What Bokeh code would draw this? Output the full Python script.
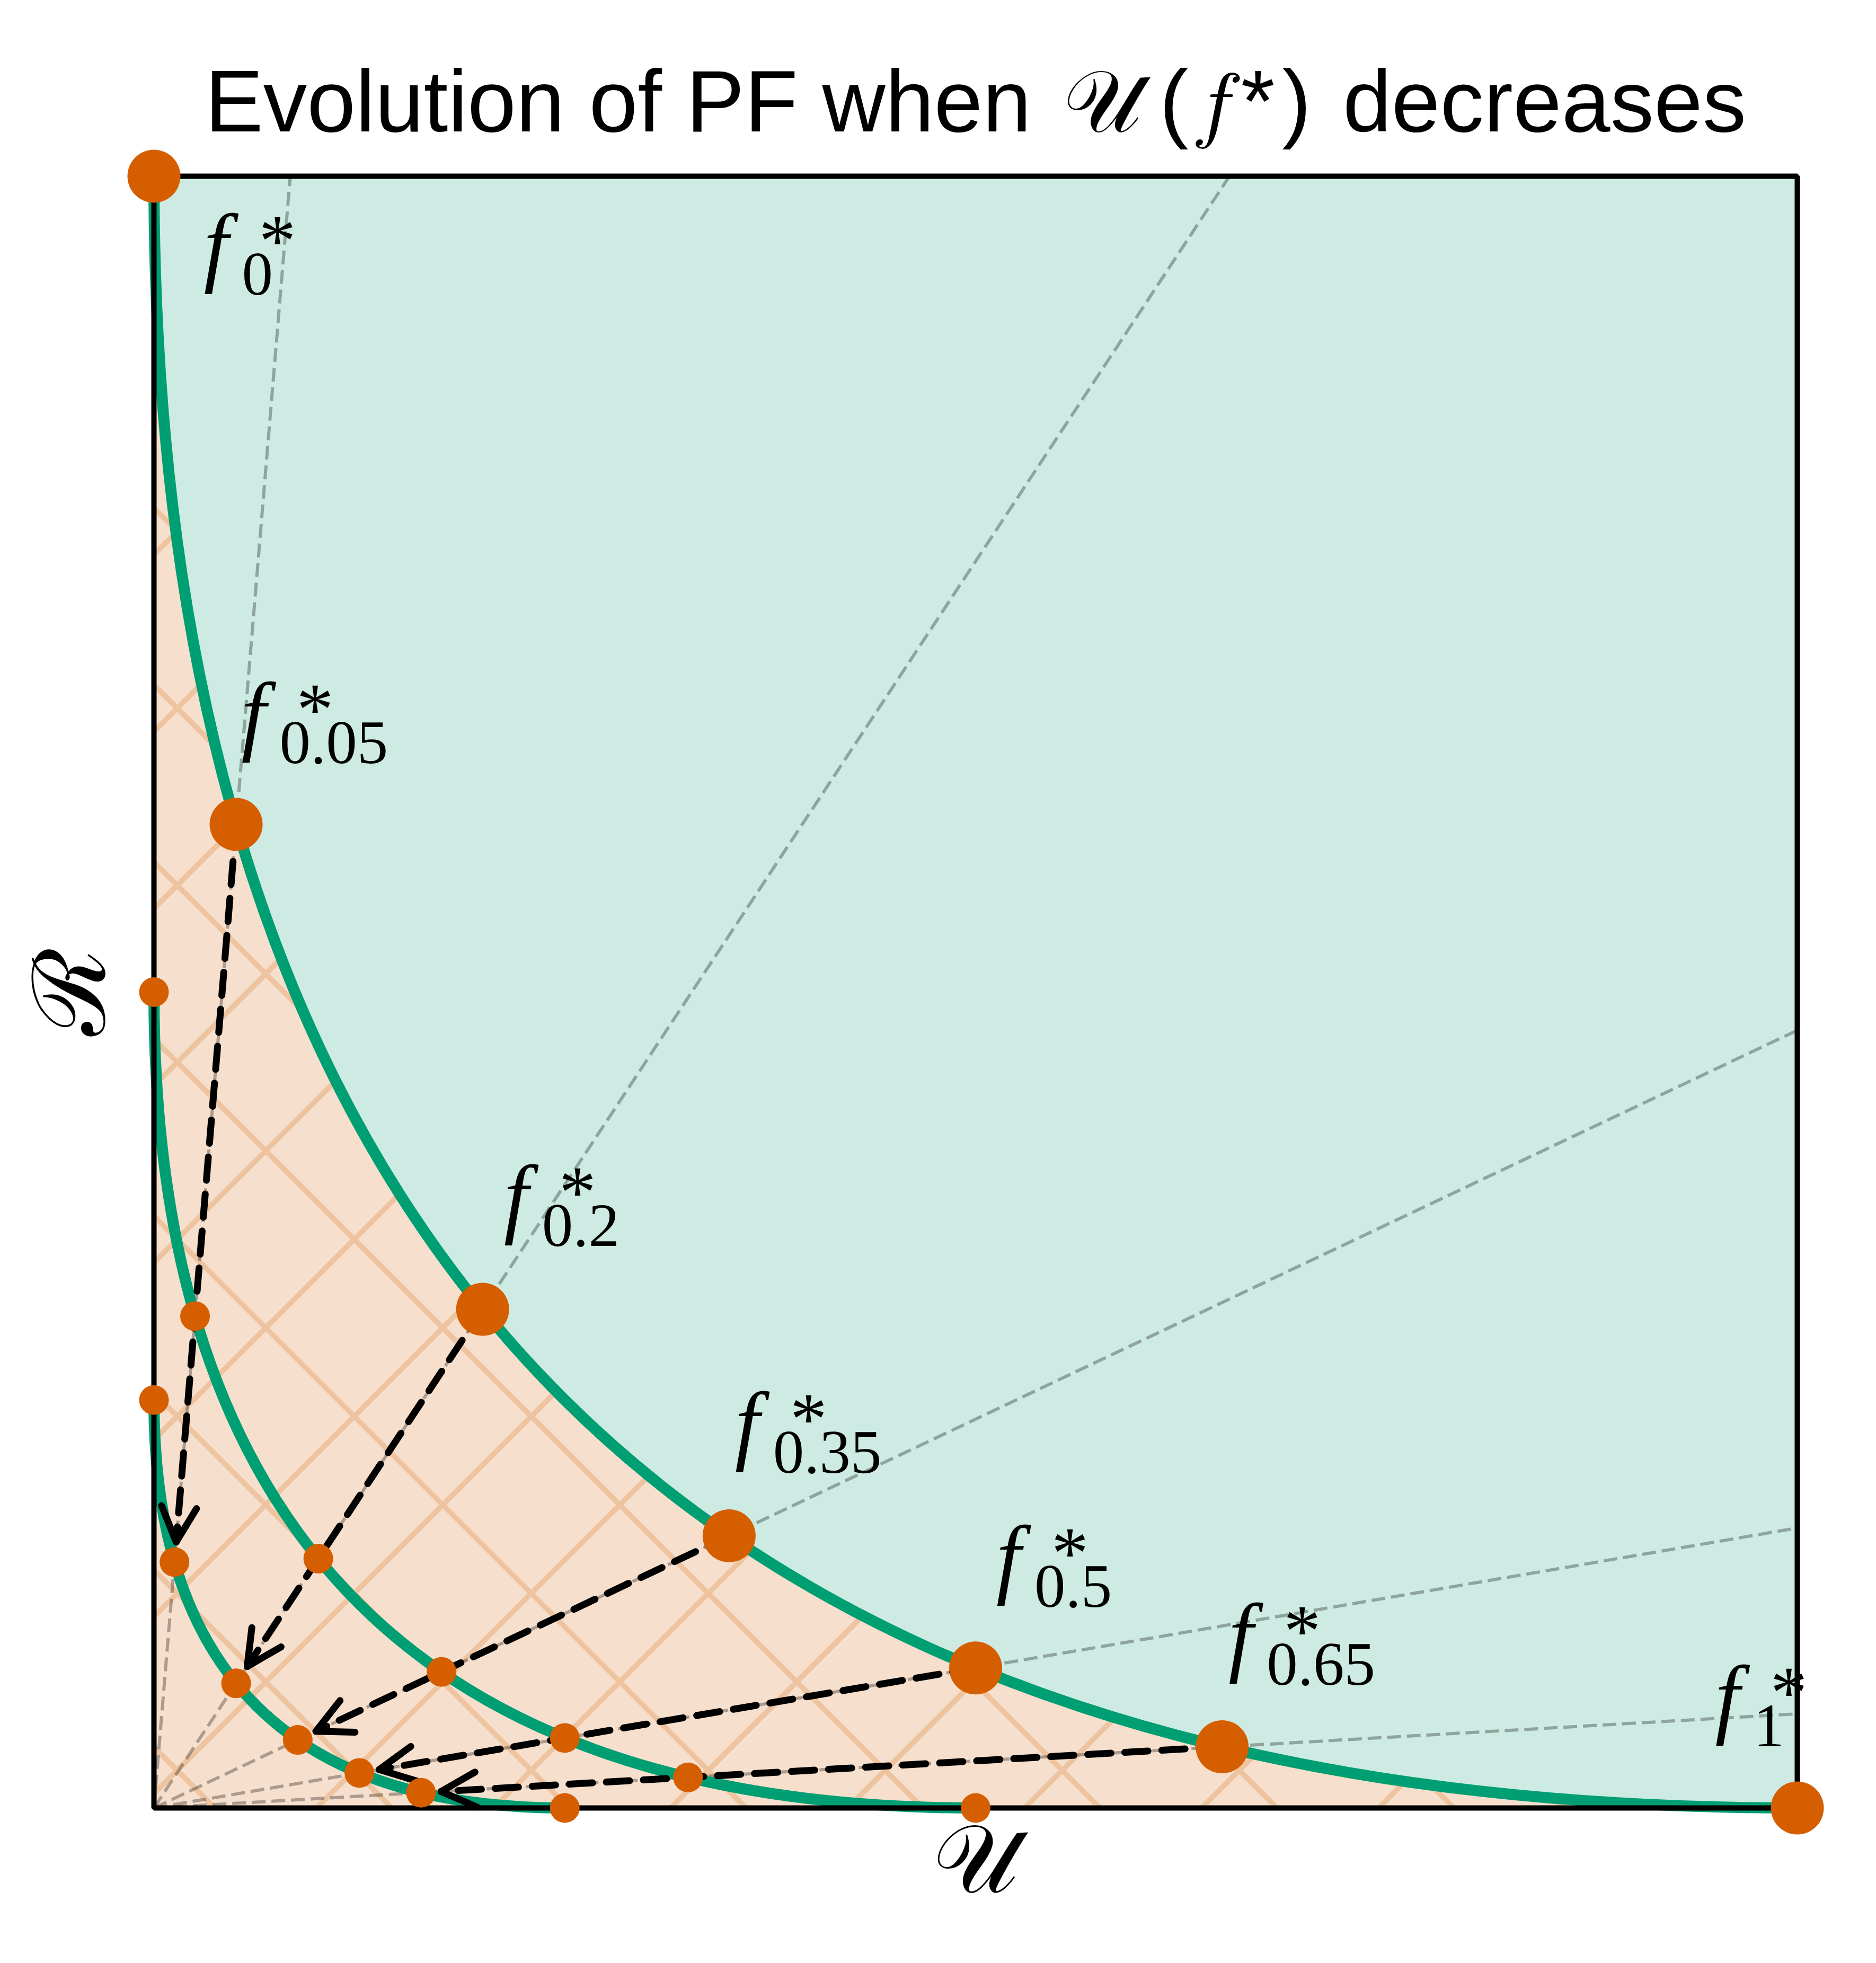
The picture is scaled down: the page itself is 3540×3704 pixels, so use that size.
import math
from bokeh.plotting import figure
from bokeh.models import Range1d, ColumnDataSource, Arrow, OpenHead
from bokeh.core.properties import value
from bokeh.embed import file_html
from bokeh.resources import INLINE

# ---------------- data ----------------
# optimal points f*_t on the outer Pareto front (U, R)
t_labels = ["0", "0.05", "0.2", "0.35", "0.5", "0.65", "1"]
front_u = [0.0, 0.05, 0.2, 0.35, 0.5, 0.65, 1.0]
front_r = [1.0, 0.6028, 0.3056, 0.1668, 0.0858, 0.0375, 0.0]
# the front shrinks toward the origin as U(f*) decreases
front_scales = [1.0, 0.5, 0.25]
# points read along the outer front (outline of the shaded areas)
curve_u = [0.0, 0.002, 0.005, 0.01, 0.02, 0.035, 0.05, 0.075, 0.1, 0.15, 0.175,
           0.2, 0.225, 0.25, 0.2763, 0.3056, 0.35, 0.3754, 0.4, 0.4675, 0.5,
           0.5273, 0.6028, 0.65, 0.6608, 0.7372, 0.81, 0.8636, 0.9126, 1.0]
curve_r = [1.0, 0.9126, 0.8636, 0.81, 0.7372, 0.6608, 0.6028, 0.5273, 0.4675,
           0.3754, 0.3383, 0.3056, 0.2763, 0.25, 0.225, 0.2, 0.1668, 0.15, 0.1351,
           0.1, 0.0858, 0.075, 0.05, 0.0375, 0.035, 0.02, 0.01, 0.005, 0.002, 0.0]
title_text = ("Evolution of PF when\u200A \U0001D4B0\u2009(\u200A\U0001D453*\u200A)"
              "\u200A decreases")
x_label = "\U0001D4B0"
y_label = "\u211B"

# ---------------- layout / style ----------------
W, H = 3520, 3680
BOX_L, BOX_R, BOX_T, BOX_B = 290, 3391, 332, 3411
SX = BOX_R - BOX_L
SY = BOX_B - BOX_T
GREEN = "#009e73"
ORANGE = "#d55e00"
TEAL_BG = "#cdebe3"
PEACH_BG = "#f6dfcc"
HATCH = "#eec4a0"
F_SIZE, SUB_SIZE, AST_SIZE = 167, 117, 140
TXT_SHIFT = 0.35   # text sits this many em lower than its alphabetic anchor
label_dx = [94, 10, 40, 11, 39, 12, -155]        # px, left ink of "f"
label_dy = [188, -151, -155, -154, -151, -153, -152]  # px, baseline of "f"
ARROW_GAP = 38

p = figure(width=W, height=H, title=None,
           x_range=Range1d(-BOX_L / SX, (W - BOX_L) / SX),
           y_range=Range1d(-(H - BOX_B) / SY, 1 + BOX_T / SY),
           x_axis_location=None, y_axis_location=None,
           toolbar_location=None, output_backend="svg", min_border=0)
p.outline_line_color = None
p.xgrid.visible = False
p.ygrid.visible = False
p.background_fill_color = "white"
p.border_fill_color = "white"

# box extent = data extent of the front
u0, u1 = min(front_u), max(front_u)
r0, r1 = min(front_r), max(front_r)

# teal region (above front) and hatched region (below front)
p.quad(left=[u0], right=[u1], bottom=[r0], top=[r1], fill_color=TEAL_BG, line_color=None)
p.patch(x=curve_u + [u0], y=curve_r + [r0], fill_color=PEACH_BG, line_color=None,
        hatch_pattern="x", hatch_color=HATCH, hatch_weight=10, hatch_scale=334)

# rays from the origin through the optimal points
inner = range(1, len(front_u) - 1)
ray_x1, ray_y1 = [], []
for i in inner:
    k = 1.0 / max(front_u[i], front_r[i])
    ray_x1.append(front_u[i] * k)
    ray_y1.append(front_r[i] * k)
p.segment(x0=[u0] * len(ray_x1), y0=[r0] * len(ray_x1), x1=ray_x1, y1=ray_y1,
          line_color="black", line_alpha=0.3, line_width=6, line_dash="26 11")

# the three Pareto fronts (quadratic curves through the front end points)
p.quadratic(x0=[s * front_u[0] for s in front_scales], y0=[s * front_r[0] for s in front_scales],
            x1=[s * front_u[-1] for s in front_scales], y1=[s * front_r[-1] for s in front_scales],
            cx=[s * u0 for s in front_scales], cy=[s * r0 for s in front_scales],
            line_color=GREEN, line_width=21)

# arrows from the outer points to the innermost front
smin = min(front_scales)
xs, ys, xe, ye = [], [], [], []
for i in inner:
    ux, ry = front_u[i], front_r[i]
    tx, ty = smin * ux, smin * ry
    dxp, dyp = (tx - ux) * SX, (ty - ry) * SY
    L = math.hypot(dxp, dyp)
    xs.append(ux); ys.append(ry)
    xe.append(tx - dxp / L * ARROW_GAP / SX)
    ye.append(ty - dyp / L * ARROW_GAP / SY)
asrc = ColumnDataSource(dict(xs=xs, ys=ys, xe=xe, ye=ye))
p.add_layout(Arrow(end=OpenHead(size=66, line_width=13, line_color="black",
                                line_cap="round", line_join="round"),
                   x_start="xs", y_start="ys", x_end="xe", y_end="ye", source=asrc,
                   line_color="black", line_width=13, line_dash="44 26", line_cap="round"))

# box border
p.quad(left=[u0], right=[u1], bottom=[r0], top=[r1], fill_color=None,
       line_color="black", line_width=10, level="overlay")

# points on every front
for s in front_scales:
    p.scatter(x=[s * u for u in front_u], y=[s * r for r in front_r],
              size=100 if s == max(front_scales) else 56,
              fill_color=ORANGE, line_color=None, level="overlay")

# labels f*_t
lsrc = ColumnDataSource(dict(
    x=front_u, y=front_r, sub=t_labels,
    f=["f"] * len(front_u), ast=["*"] * len(front_u),
    fx=[d for d in label_dx], fy=[d - TXT_SHIFT * F_SIZE for d in label_dy],
    ax=[d + 104 for d in label_dx], ay=[d - 18 - TXT_SHIFT * AST_SIZE for d in label_dy],
    sx=[d + 72 for d in label_dx], sy=[d + 38 - TXT_SHIFT * SUB_SIZE for d in label_dy]))
p.text(x="x", y="y", text="f", x_offset="fx", y_offset="fy", source=lsrc,
       text_font=value("Liberation Serif"), text_font_style="italic",
       text_font_size=value(f"{F_SIZE}px"), text_color="black",
       text_align="left", text_baseline="alphabetic", level="overlay")
p.text(x="x", y="y", text="ast", x_offset="ax", y_offset="ay", source=lsrc,
       text_font=value("Liberation Serif"), text_font_size=value(f"{AST_SIZE}px"),
       text_color="black", text_align="left", text_baseline="alphabetic", level="overlay")
p.text(x="x", y="y", text="sub", x_offset="sx", y_offset="sy", source=lsrc,
       text_font=value("Liberation Serif"), text_font_size=value(f"{SUB_SIZE}px"),
       text_color="black", text_align="left", text_baseline="alphabetic", level="overlay")

# title and axis labels
p.text(x=[(u0 + u1) / 2], y=[r1], text=[title_text], y_offset=-84 - TXT_SHIFT * 165,
       text_font=value("Liberation Sans"), text_font_size=value("165px"),
       text_color="black", text_align="center", text_baseline="alphabetic", level="overlay")
p.text(x=[(u0 + u1) / 2], y=[r0], text=[x_label], y_offset=96,
       text_font=value("DejaVu Serif"), text_font_size=value("180px"),
       text_color="black", text_align="center", text_baseline="alphabetic", level="overlay")
p.text(x=[u0], y=[(r0 + r1) / 2], text=[y_label], x_offset=-159, angle=90, angle_units="deg",
       text_font=value("DejaVu Serif"), text_font_size=value("190px"),
       text_color="black", text_align="center", text_baseline="middle", level="overlay")

open("out.html", "w").write(file_html(p, INLINE))
